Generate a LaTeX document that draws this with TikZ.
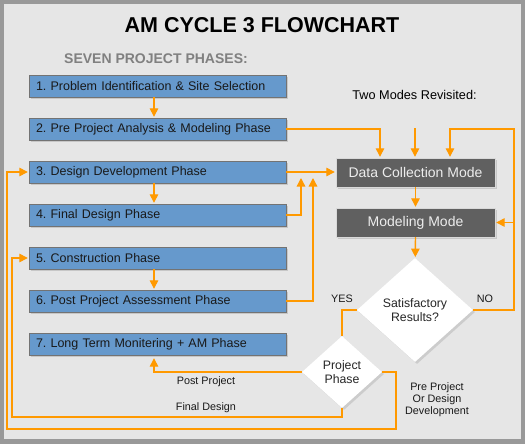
\documentclass[tikz,border=0pt]{standalone}
\usepackage{fontspec}
\setmainfont{Liberation Sans}
\usetikzlibrary{shapes.geometric,shadows,arrows.meta}
\definecolor{phaseblue}{RGB}{102,153,204}
\definecolor{flowline}{RGB}{255,153,0}
\definecolor{modegray}{RGB}{96,96,96}
\definecolor{bggray}{RGB}{230,230,230}
\definecolor{framegray}{RGB}{153,153,153}
\frenchspacing

\begin{document}
\begin{tikzpicture}[x=1pt,y=-1pt]
    \tikzstyle{flow}=[draw=flowline,line width=1.3pt,shorten >=1pt,-{Triangle[width=8.5pt,length=8.5pt]}]
    \tikzstyle{wire}=[draw=flowline,line width=1.3pt]
    \tikzstyle{phase}=[rectangle,draw=black!55,fill=phaseblue,minimum height=22pt,text width=243pt,inner xsep=7pt,inner ysep=0pt,align=left,text=black!90,font=\fontsize{12.5}{14}\selectfont,drop shadow={opacity=0.3,shadow xshift=2pt,shadow yshift=-2pt}]
    \tikzstyle{mode}=[rectangle,draw=white!85!black,fill=modegray,text=white!93!black,minimum width=159pt,minimum height=29pt,font=\fontsize{14}{16}\selectfont,drop shadow={opacity=0.3,shadow xshift=2pt,shadow yshift=-2pt}]
    \tikzstyle{decision}=[diamond,fill=white,inner sep=0pt,align=center,text=black!85,font=\fontsize{12.3}{13.5}\selectfont,drop shadow={opacity=0.25,shadow xshift=2pt,shadow yshift=-2pt}]
    \tikzstyle{annot}=[font=\fontsize{10.8}{12}\selectfont,align=center,text=black!90,inner sep=0pt]

    % Frame and background
    \fill[framegray] (0,0) rectangle (525,444);
    \fill[bggray] (4,4) rectangle (521,439);

    % Headings
    \node[font=\fontsize{21.5}{24}\bfseries\selectfont] (title) at (262,25) {AM CYCLE 3 FLOWCHART};
    \node[font=\fontsize{14}{16}\bfseries\selectfont,text=black!50] (hdr) at (156,59) {SEVEN PROJECT PHASES:};
    \node[font=\fontsize{12.7}{14}\selectfont] (modes) at (414.5,95) {Two Modes Revisited:};

    % Draw the seven phases
    \foreach \name/\txt in {1/{1. Problem Identification \& Site Selection},
                            2/{2. Pre Project Analysis \& Modeling Phase},
                            3/{3. Design Development Phase},
                            4/{4. Final Design Phase},
                            5/{5. Construction Phase},
                            6/{6. Post Project Assessment Phase},
                            7/{7. Long Term Monitering + AM Phase}}
        \node[phase] (P-\name) at (157.5,43+43*\name) {\txt};

    % Draw the two modes and the decisions
    \node[mode] (DC) at (415.5,172.5) {Data Collection Mode};
    \node[mode] (MM) at (415.5,222.5) {Modeling Mode};
    \node[decision,minimum width=116pt,minimum height=104pt] (SR) at (415,310) {Satisfactory\\Results?};
    \node[decision,minimum width=80pt,minimum height=72pt] (PP) at (342,372) {Project\\Phase};

    % Bends and free ends of the connectors
    \coordinate (revisit) at (415,128);
    \coordinate (nr) at (514,129);
    \coordinate (j4) at (301,177);
    \coordinate (j6) at (313,177);
    \coordinate (fd) at (12,417);
    \coordinate (pd) at (396,429);
    \coordinate (ld) at (7,429);

    % Link the phases down the left column
    \foreach \a/\b in {1/2,3/4,5/6}
        \draw[flow] ([xshift=-3.5pt]P-\a.south) -- ([xshift=-3.5pt]P-\b.north);

    % Feed the data collection mode
    \draw[flow] (P-2.east) -| ([xshift=-35.5pt]DC.north);
    \draw[flow] (revisit) -- (revisit |- DC.north);
    \draw[flow] (P-3.east) -- (P-3.east -| DC.west);
    \draw[flow] (P-4.east) -| (j4);
    \draw[flow] (P-6.east) -| (j6);
    \draw[flow] (DC) -- (MM);
    \draw[flow] (MM) -- (SR);

    % NO loops back to the modes
    \draw[flow] (SR.east) -| (nr) -| ([xshift=34.5pt]DC.north);
    \draw[flow] (nr |- MM.east) -- (MM.east);

    % YES goes on by project phase
    \draw[wire] (SR.west) -| (PP.north);
    \draw[flow,shorten >=3pt] (PP.west) -| ([xshift=-3.5pt]P-7.south);
    \draw[flow] (PP.south) |- (fd) |- (P-5.west);
    \draw[flow] (PP.east) -| (pd) -- (ld) |- (P-3.west);

    % Annotate the branches
    \node[annot] (yes) at (342,299) {YES};
    \node[annot] (no) at (485,299) {NO};
    \node[annot] (post) at (206,382) {Post Project};
    \node[annot] (final) at (206,408) {Final Design};
    \node[annot] (pre) at (437,400) {Pre Project\\Or Design\\Development};
\end{tikzpicture}
\end{document}
